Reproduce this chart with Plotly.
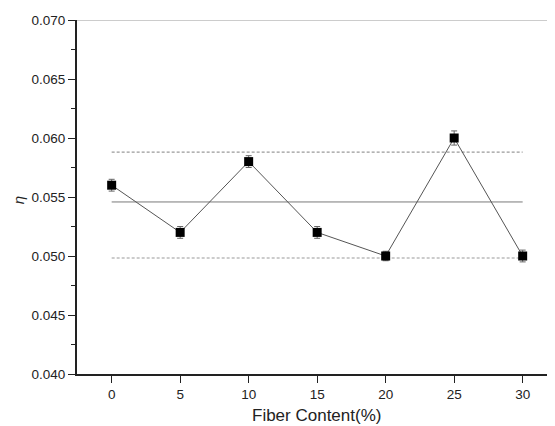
import plotly.graph_objects as go

fiber_content = [0, 5, 10, 15, 20, 25, 30]
eta = [0.0560, 0.0520, 0.0580, 0.0520, 0.0500, 0.0600, 0.0500]
eta_err = [0.0005, 0.0005, 0.0005, 0.0005, 0.0004, 0.0006, 0.0005]
mean_line = 0.05458
upper_limit = 0.05881
lower_limit = 0.04983
x_ticks = [0, 5, 10, 15, 20, 25, 30]

font_family = "Liberation Sans, Arial, sans-serif"

fig = go.Figure()

x_ends = [fiber_content[0], fiber_content[-1]]
fig.add_trace(go.Scatter(x=x_ends, y=[upper_limit, upper_limit], mode="lines",
                         line=dict(color="#9a9a9a", width=1.2, dash="3px,2px"), hoverinfo="skip"))
fig.add_trace(go.Scatter(x=x_ends, y=[lower_limit, lower_limit], mode="lines",
                         line=dict(color="#9a9a9a", width=1.2, dash="3px,2px"), hoverinfo="skip"))
fig.add_trace(go.Scatter(x=x_ends, y=[mean_line, mean_line], mode="lines",
                         line=dict(color="#7a7a7a", width=1), hoverinfo="skip"))

fig.add_trace(go.Scatter(
    x=fiber_content, y=eta, mode="lines+markers",
    line=dict(color="#555555", width=1),
    marker=dict(symbol="square", size=9, color="black"),
    error_y=dict(type="data", array=eta_err, color="#666666", thickness=1, width=3),
))

fig.add_shape(type="line", xref="paper", yref="y", x0=0, x1=1, y0=0.070, y1=0.070,
              line=dict(color="#9a9a9a", width=1))

fig.update_layout(
    width=547, height=418,
    margin=dict(l=69, r=0, t=12, b=52),
    paper_bgcolor="white", plot_bgcolor="white",
    showlegend=False,
    font=dict(family=font_family, color="#222222", size=13.5),
    xaxis=dict(
        range=[-2.53, 32.36], tickvals=x_ticks, ticks="outside", ticklen=7,
        tickwidth=1.2, tickcolor="#222222",
        showline=True, linecolor="#222222", linewidth=2,
        showgrid=False, zeroline=False,
    ),
    yaxis=dict(
        range=[0.040, 0.070], dtick=0.005, tick0=0.040, tickformat=".3f",
        ticks="outside", ticklen=7, tickwidth=1.2, tickcolor="#222222",
        minor=dict(dtick=0.0025, ticks="outside", ticklen=4, tickwidth=1.2, tickcolor="#222222"),
        showline=True, linecolor="#222222", linewidth=2,
        showgrid=False, zeroline=False,
    ),
)

fig.add_annotation(text="<i>η</i>", xref="paper", yref="paper", x=-0.122, y=0.49,
                   xanchor="center", yanchor="middle", showarrow=False, textangle=-90,
                   font=dict(size=15, family=font_family))
fig.add_annotation(text="Fiber Content(%)", xref="paper", yref="paper", x=0.5, y=-0.118,
                   xanchor="center", yanchor="middle", showarrow=False,
                   font=dict(size=17, family=font_family))

fig.write_html("out.html")
